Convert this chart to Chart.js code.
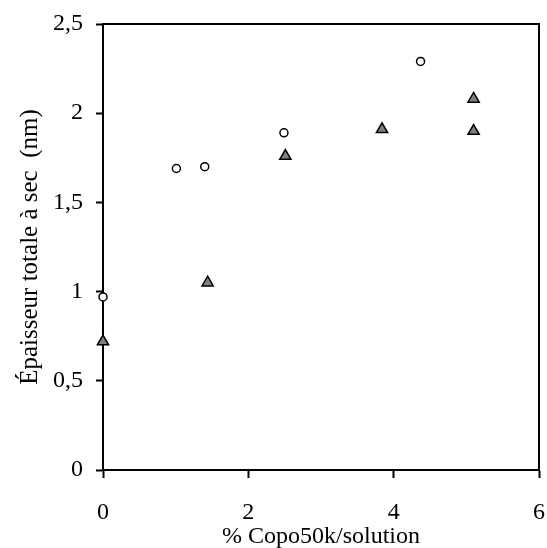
<!DOCTYPE html>
<html>
<head>
<meta charset="utf-8">
<script src="https://cdn.jsdelivr.net/npm/chart.js@4"></script>
<style>
  html, body { margin: 0; padding: 0; background: #fff; }
  #wrap { width: 547px; height: 548px; }
</style>
</head>
<body>
<div id="wrap"><canvas id="thickChart"></canvas></div>
<script>
// circles (open)
const circX = [0, 1.01, 1.40, 2.49, 4.37];
const circY = [0.97, 1.69, 1.70, 1.89, 2.29];
// triangles (grey)
const triX = [0, 1.44, 2.51, 3.84, 5.10, 5.10];
const triY = [0.72, 1.05, 1.76, 1.91, 2.08, 1.90];

const xTicks = [0, 2, 4, 6];
const yTicks = [0, 0.5, 1, 1.5, 2, 2.5];

const toPts = (xs, ys) => xs.map((x, i) => ({ x: x, y: ys[i] }));

// frame on top and right of the plot area
const frame = {
    id: 'frame',
    afterDraw(chart) {
        const a = chart.chartArea, c = chart.ctx;
        c.save();
        c.strokeStyle = '#000';
        c.lineWidth = 2;
        c.beginPath();
        c.moveTo(a.left, a.top);
        c.lineTo(a.right, a.top);
        c.lineTo(a.right, a.bottom);
        c.stroke();
        c.restore();
    }
};

const ctx = document.getElementById('thickChart').getContext('2d');
new Chart(ctx, {
    type: 'scatter',
    data: {
        datasets: [{
            label: 'triangles',
            data: toPts(triX, triY),
            pointStyle: 'triangle',
            pointRadius: 6.5,
            pointBackgroundColor: '#808080',
            pointBorderColor: '#000',
            pointBorderWidth: 1.5,
            clip: false
        }, {
            label: 'cercles',
            data: toPts(circX, circY),
            pointStyle: 'circle',
            pointRadius: 4,
            pointBackgroundColor: '#fff',
            pointBorderColor: '#000',
            pointBorderWidth: 1.5,
            clip: false
        }]
    },
    options: {
        responsive: true,
        maintainAspectRatio: false,
        animation: false,
        layout: { padding: { top: 24, right: 8, left: 0, bottom: 0 } },
        plugins: {
            legend: { display: false },
            tooltip: { enabled: false }
        },
        scales: {
            x: {
                type: 'linear',
                min: 0,
                max: 6,
                afterFit: (s) => { s.height = 78; s.paddingLeft = 0; s.paddingRight = 0; },
                afterBuildTicks: (s) => { s.ticks = xTicks.map(v => ({ value: v })); },
                border: { color: '#000', width: 2 },
                grid: { drawOnChartArea: false, drawTicks: true, tickLength: 8, tickColor: '#000', tickWidth: 2 },
                ticks: {
                    color: '#000',
                    padding: 20,
                    font: { family: 'Liberation Serif', size: 24 }
                },
                title: {
                    display: true,
                    text: '% Copo50k/solution',
                    color: '#000',
                    padding: { top: 0, bottom: -3 },
                    font: { family: 'Liberation Serif', size: 24 }
                }
            },
            y: {
                type: 'linear',
                min: 0,
                max: 2.5,
                afterFit: (s) => { s.width = 103; s.paddingTop = 0; s.paddingBottom = 0; },
                afterBuildTicks: (s) => { s.ticks = yTicks.map(v => ({ value: v })); },
                border: { color: '#000', width: 2 },
                grid: { drawOnChartArea: false, drawTicks: true, tickLength: 7, tickColor: '#000', tickWidth: 2 },
                ticks: {
                    color: '#000',
                    padding: 13,
                    font: { family: 'Liberation Serif', size: 24 },
                    callback: (v) => String(v).replace('.', ',')
                },
                title: {
                    display: true,
                    text: 'Épaisseur totale à sec  (nm)',
                    color: '#000',
                    padding: { top: 15, bottom: 0 },
                    font: { family: 'Liberation Serif', size: 25 }
                }
            }
        }
    },
    plugins: [frame]
});
</script>
</body>
</html>
